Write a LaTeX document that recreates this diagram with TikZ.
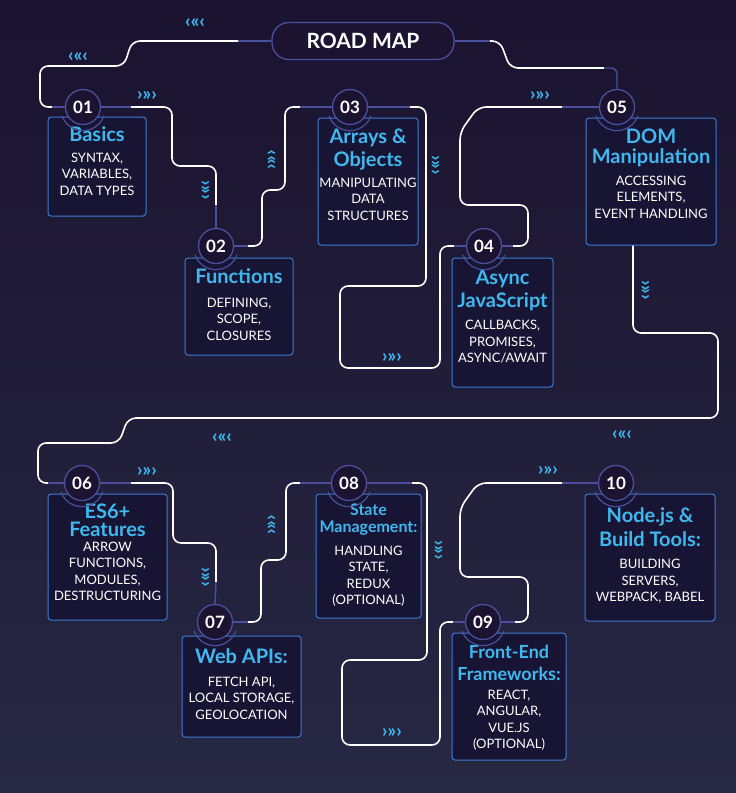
\documentclass[tikz,border=0pt]{standalone}
\usepackage{fontspec}
\setmainfont{Lato}
\usetikzlibrary{calc}
\definecolor{bgtop}{HTML}{1B1330}
\definecolor{bgbot}{HTML}{272843}
\definecolor{cyanT}{HTML}{3FB8F0}
\definecolor{boxblue}{HTML}{3C7BD4}
\definecolor{dimline}{HTML}{4A4F9E}
\definecolor{boxfill}{HTML}{171533}
\tikzset{
  road/.style={draw=white,line width=1.6pt,rounded corners=8pt},
  dimroad/.style={draw=dimline,line width=1.4pt,rounded corners=6pt},
  stepbox/.style={draw=boxblue,line width=1pt,fill=boxfill,rounded corners=3pt,inner sep=0pt},
  numc/.style={circle,draw=dimline,line width=1.3pt,fill=bgtop,minimum size=35pt,inner sep=0pt,text=white,font=\fontsize{17}{17}\selectfont\bfseries},
  txt/.style={align=center,text=white,inner sep=0pt,font=\fontsize{13}{16.5}\selectfont},
  chev/.style={text=cyanT,inner sep=0pt,font=\fontsize{19}{19}\selectfont\bfseries},
}
\newcommand{\ttl}[1]{{\color{cyanT}\fontsize{20}{23}\selectfont\bfseries #1}}
\newcommand{\ttls}[2]{{\color{cyanT}\fontsize{#1}{#1}\selectfont\bfseries #2}}
\begin{document}
\begin{tikzpicture}[x=1pt,y=-1pt]
\shade[top color=bgtop,bottom color=bgbot] (0,0) rectangle (736,793);
\useasboundingbox (0,0) rectangle (736,793);

% title pill
\node[draw=dimline,line width=1.3pt,fill=bgtop,rounded corners=17pt,minimum width=182pt,minimum height=37pt,text=white,font=\fontsize{21}{21}\selectfont\bfseries] (rm) at (363,41) {ROAD MAP};

% boxes
\node[stepbox,minimum width=98pt,minimum height=99pt] (b1) at (97,166.5) {};
\node[stepbox,minimum width=108pt,minimum height=97pt] (b2) at (239,306.5) {};
\node[stepbox,minimum width=100pt,minimum height=127pt] (b3) at (368,181.5) {};
\node[stepbox,minimum width=101pt,minimum height=129pt] (b4) at (502.5,322.5) {};
\node[stepbox,minimum width=130pt,minimum height=127pt] (b5) at (651,181.5) {};
\node[stepbox,minimum width=119pt,minimum height=126pt] (b6) at (107.5,557) {};
\node[stepbox,minimum width=119pt,minimum height=101pt] (b7) at (241.5,686.5) {};
\node[stepbox,minimum width=105pt,minimum height=124pt] (b8) at (368.5,556) {};
\node[stepbox,minimum width=114pt,minimum height=127pt] (b9) at (509,696.5) {};
\node[stepbox,minimum width=130pt,minimum height=127pt] (b10) at (650,557.5) {};

% box texts
\node[txt,anchor=north] (t1) at ($(b1.north)+(0,10)$) {\ttl{Basics}\\[4pt]SYNTAX,\\VARIABLES,\\DATA TYPES};
\node[txt,anchor=north] (t2) at ($(b2.north)+(0,11)$) {\ttl{Functions}\\[7pt]DEFINING,\\SCOPE,\\CLOSURES};
\node[txt,anchor=north] (t3) at ($(b3.north)+(0,11)$) {\ttl{Arrays \&}\\[4pt]\ttl{Objects}\\[4pt]MANIPULATING\\DATA\\STRUCTURES};
\node[txt,anchor=north] (t4) at ($(b4.north)+(0,12)$) {\ttl{Async}\\[4pt]\ttl{JavaScript}\\[6pt]CALLBACKS,\\PROMISES,\\ASYNC/AWAIT};
\node[txt,anchor=north] (t5) at ($(b5.north)+(0,11)$) {\ttl{DOM}\\[4pt]\ttl{Manipulation}\\[5pt]ACCESSING\\ELEMENTS,\\EVENT HANDLING};
\node[txt,anchor=north] (t6) at ($(b6.north)+(0,10)$) {\ttl{ES6+}\\[2pt]\ttl{Features}\\[-2pt]ARROW\\FUNCTIONS,\\MODULES,\\DESTRUCTURING};
\node[txt,anchor=north] (t7) at ($(b7.north)+(0,13)$) {\ttl{Web APIs:}\\[6pt]FETCH API,\\LOCAL STORAGE,\\GEOLOCATION};
\node[txt,anchor=north] (t8) at ($(b8.north)+(0,10)$) {\ttls{16}{State}\\[1pt]\ttls{16}{Management:}\\[6pt]HANDLING\\STATE,\\REDUX\\(OPTIONAL)};
\node[txt,anchor=north] (t9) at ($(b9.north)+(0,12)$) {\ttls{18}{Front-End}\\[6pt]\ttls{18}{Frameworks:}\\[2pt]REACT,\\ANGULAR,\\VUE.JS\\(OPTIONAL)};
\node[txt,anchor=north] (t10) at ($(b10.north)+(0,14)$) {\ttl{Node.js \&}\\[4pt]\ttl{Build Tools:}\\[6pt]BUILDING\\SERVERS,\\WEBPACK, BABEL};

% number circle under-arcs
\foreach \x/\y in {83/107,216/246,350/107,484/246,617/107,82/483,215/622,349/483,483/622,616/483}{
  \draw[dimline,line width=1.2pt] (\x-21,\y+9) arc[start angle=200,end angle=340,radius=22.3pt];
}
\node[numc] (c1) at (83,107) {01};
\node[numc] (c2) at (216,246) {02};
\node[numc] (c3) at (350,107) {03};
\node[numc] (c4) at (484,246) {04};
\node[numc] (c5) at (617,107) {05};
\node[numc] (c6) at (82,483) {06};
\node[numc] (c7) at (215,622) {07};
\node[numc] (c8) at (349,483) {08};
\node[numc] (c9) at (483,622) {09};
\node[numc] (c10) at (616,483) {10};

% roads
\coordinate (a1) at (238,41);
\draw[dimroad] (rm.west) -- (a1);
\coordinate (a2) at (52,107);
\draw[road] (a1) -- (132,41) -- (124,66) -- (40,66) -- (40,107) -- (a2);
\draw[dimroad] (a2) -- (c1.west);

\coordinate (p1) at (131,107); \coordinate (p2) at (216,205);
\draw[dimroad] (c1.east) -- (p1);
\draw[road] (p1) -- (172,107) -- (172,166) -- (216,166) -- (p2);
\draw[dimroad] (p2) -- (c2.north);

\coordinate (q1) at (248,246); \coordinate (q2) at (300,107);
\draw[dimroad] (c2.east) -- (q1);
\draw[road] (q1) -- (262,246) -- (262,190) -- (285,190) -- (285,107) -- (q2);
\draw[dimroad] (q2) -- (c3.west);

\coordinate (r1) at (410,107); \coordinate (r2) at (454,246);
\draw[dimroad] (c3.east) -- (r1);
\draw[road] (r1) -- (426,107) -- (426,286) -- (340,286) -- (340,368) -- (440,368) -- (440,246) -- (r2);
\draw[dimroad] (r2) -- (c4.west);

\coordinate (s1) at (513,246); \coordinate (s2) at (562,107);
\draw[dimroad] (c4.east) -- (s1);
\draw[road] (s1) -- (528,246) -- (528,205) -- (460,205) -- (460,132) -- (478,107) -- (s2);
\draw[dimroad] (s2) -- (c5.west);

\coordinate (f1) at (490,41); \coordinate (f2) at (604,68);
\draw[dimroad] (rm.east) -- (f1);
\draw[road] (f1) -- (500,41) -- (510,68) -- (f2);
\draw[dimroad] (f2) -- (617,68) -- (c5.north);

\coordinate (g0) at ($(b5.south)+(-18,0)$); \coordinate (g1) at (48,483);
\draw[road] (g0) -- (633,333) -- (718,333) -- (718,418) -- (128,418) -- (119,443) -- (38,443) -- (38,483) -- (g1);
\draw[dimroad] (g1) -- (c6.west);

\coordinate (h1) at (131,483); \coordinate (h2) at (216,582);
\draw[dimroad] (c6.east) -- (h1);
\draw[road] (h1) -- (173,483) -- (173,543) -- (216,543) -- (h2);
\draw[dimroad] (h2) -- (c7.north);

\coordinate (i1) at (248,622); \coordinate (i2) at (300,483);
\draw[dimroad] (c7.east) -- (i1);
\draw[road] (i1) -- (261,622) -- (261,560) -- (286,560) -- (286,483) -- (i2);
\draw[dimroad] (i2) -- (c8.west);

\coordinate (j1) at (412,483); \coordinate (j2) at (453,622);
\draw[dimroad] (c8.east) -- (j1);
\draw[road] (j1) -- (427,483) -- (427,660) -- (342,660) -- (342,745) -- (440,745) -- (440,622) -- (j2);
\draw[dimroad] (j2) -- (c9.west);

\coordinate (k1) at (515,622); \coordinate (k2) at (562,483);
\draw[dimroad] (c9.east) -- (k1);
\draw[road] (k1) -- (528,622) -- (528,577) -- (460,577) -- (460,508) -- (478,483) -- (k2);
\draw[dimroad] (k2) -- (c10.west);

% chevrons
\foreach \x/\y/\r [count=\i] in {195/22/180,78/56/180,222/437/180,622/434/180,
  147/96/0,540/96/0,392/358/0,147/472/0,392/733/0,548/471/0,
  205/190/-90,435/165/-90,645/290/-90,205/577/-90,438/550/-90,
  272/160/90,272/525/90}{
  \node[chev,rotate=\r] (ch\i) at (\x,\y) {›»›};
}
\end{tikzpicture}
\end{document}
